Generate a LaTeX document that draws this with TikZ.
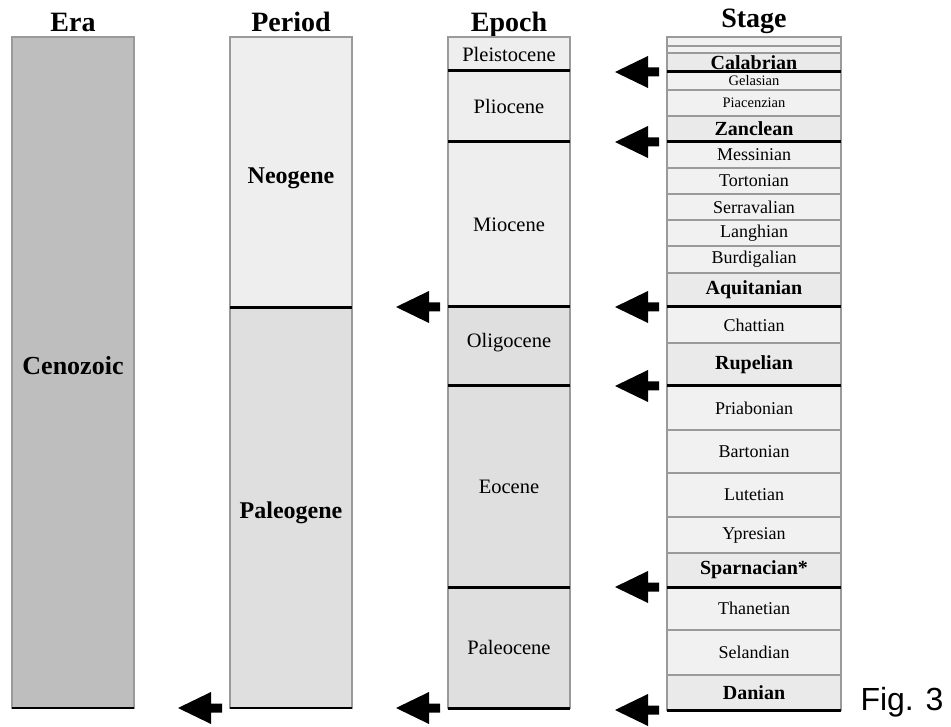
\documentclass[tikz,border=0pt]{standalone}
\usepackage{fontspec}
\setmainfont{Liberation Serif}
\newfontfamily\figfont{Liberation Sans}
\usetikzlibrary{positioning}
\definecolor{eragray}{HTML}{BEBEBE}
\definecolor{lightfill}{HTML}{EEEEEE}
\definecolor{darkfill}{HTML}{DFDFDF}
\definecolor{stagefill}{HTML}{F1F1F1}
\definecolor{stagebold}{HTML}{EAEAEA}
\definecolor{edgegray}{HTML}{9A9A9A}
\begin{document}
\begin{tikzpicture}[x=1pt, y=-1pt,
    cell/.style={draw=edgegray, line width=1.4pt, fill=#1, anchor=north, inner sep=0pt, outer sep=0pt, minimum width=122pt},
    headtext/.style={font=\bfseries\fontsize{28}{30}\selectfont, anchor=base},
    bigbox/.style={cell=#1, font=\bfseries\fontsize{24}{26}\selectfont},
    epochbox/.style={cell=#1, font=\fontsize{20.5}{22}\selectfont},
    stagebox/.style={cell=stagefill, minimum width=174pt, line width=1.2pt, font=\fontsize{18}{19}\selectfont},
    smallstage/.style={stagebox, font=\fontsize{14.5}{15}\selectfont},
    keystage/.style={stagebox, fill=stagebold, font=\bfseries\fontsize{20}{21}\selectfont},
    boundary/.style={line width=3pt, black},
    larrow/.pic={\fill (0,-4.5) -- (-11,-4.5) -- (-11,-16) -- (-44,0) -- (-11,16) -- (-11,4.5) -- (0,4.5) -- cycle;}
]
    \useasboundingbox (0,0) rectangle (951,727);

    % Column headers
    \node[headtext] (hera) at (73,32) {Era};
    \node[headtext] (hperiod) at (291,32) {Period};
    \node[headtext] (hepoch) at (509,32) {Epoch};
    \node[headtext] (hstage) at (754,28) {Stage};

    % Era
    \node[bigbox=eragray, minimum height=671pt, font=\bfseries\fontsize{26}{28}\selectfont, text depth=14pt] (cen) at (73,37) {Cenozoic};

    % Periods
    \node[bigbox=lightfill, minimum height=271pt, text height=27pt] (neo) at (291,37) {Neogene};
    \node[bigbox=darkfill, minimum height=400pt, text height=27pt, below=0pt of neo] (pal) {Paleogene};

    % Epochs
    \node[epochbox=lightfill, minimum height=34pt] (plei) at (509,37) {Pleistocene};
    \node[epochbox=lightfill, minimum height=71pt, below=0pt of plei] (plio) {Pliocene};
    \node[epochbox=lightfill, minimum height=165pt, below=0pt of plio] (mio) {Miocene};
    \node[epochbox=darkfill, minimum height=79pt, text depth=12pt, below=0pt of mio] (oli) {Oligocene};
    \node[epochbox=darkfill, minimum height=201pt, below=0pt of oli] (eoc) {Eocene};
    \node[epochbox=darkfill, minimum height=121pt, below=0pt of eoc] (paleo) {Paleocene};

    % Stages
    \node[stagebox, minimum height=9pt] (top1) at (754,37) {};
    \node[stagebox, minimum height=7pt, below=0pt of top1] (top2) {};
    \node[keystage, minimum height=19pt, below=0pt of top2] (cal) {Calabrian};
    \node[smallstage, minimum height=18pt, below=0pt of cal] (gel) {Gelasian};
    \node[smallstage, minimum height=26pt, below=0pt of gel] (pia) {Piacenzian};
    \node[keystage, minimum height=26pt, below=0pt of pia] (zan) {Zanclean};
    \node[stagebox, minimum height=26pt, below=0pt of zan] (mes) {Messinian};
    \node[stagebox, minimum height=26pt, below=0pt of mes] (tor) {Tortonian};
    \node[stagebox, minimum height=26pt, below=0pt of tor] (ser) {Serravalian};
    \node[stagebox, minimum height=26pt, below=0pt of ser] (lan) {Langhian};
    \node[stagebox, minimum height=27pt, below=0pt of lan] (bur) {Burdigalian};
    \node[keystage, minimum height=34pt, below=0pt of bur] (aqu) {Aquitanian};
    \node[stagebox, minimum height=36pt, below=0pt of aqu] (cha) {Chattian};
    \node[keystage, minimum height=43pt, below=0pt of cha] (rup) {Rupelian};
    \node[stagebox, minimum height=44pt, below=0pt of rup] (pri) {Priabonian};
    \node[stagebox, minimum height=43pt, below=0pt of pri] (bar) {Bartonian};
    \node[stagebox, minimum height=44pt, below=0pt of bar] (lut) {Lutetian};
    \node[stagebox, minimum height=36pt, below=0pt of lut] (ypr) {Ypresian};
    \node[keystage, minimum height=34pt, below=0pt of ypr] (spa) {Sparnacian*};
    \node[stagebox, minimum height=43pt, below=0pt of spa] (tha) {Thanetian};
    \node[stagebox, minimum height=45pt, below=0pt of tha] (sel) {Selandian};
    \node[keystage, minimum height=35pt, below=0pt of sel] (dan) {Danian};

    % Boundary lines
    \draw[line width=1.6pt] (cen.south west) -- (cen.south east);
    \draw[boundary] (neo.south west) -- (neo.south east);
    \draw[line width=2pt] (pal.south west) -- (pal.south east);
    \draw[boundary] (plei.south west) -- (plei.south east);
    \draw[boundary] (plio.south west) -- (plio.south east);
    \draw[boundary] (mio.south west) -- (mio.south east);
    \draw[boundary] (oli.south west) -- (oli.south east);
    \draw[boundary] (eoc.south west) -- (eoc.south east);
    \draw[boundary] (paleo.south west) -- (paleo.south east);
    \draw[boundary] (cal.south west) -- (cal.south east);
    \draw[boundary] (zan.south west) -- (zan.south east);
    \draw[boundary] (aqu.south west) -- (aqu.south east);
    \draw[boundary] (rup.south west) -- (rup.south east);
    \draw[boundary] (spa.south west) -- (spa.south east);
    \draw[boundary] (dan.south west) -- (dan.south east);

    % Arrows
    \pic at ([xshift=-8pt]pal.south west) {larrow};
    \pic at ([xshift=-8pt]mio.south west) {larrow};
    \pic at ([xshift=-8pt]paleo.south west) {larrow};
    \pic at ([xshift=-8pt]cal.south west) {larrow};
    \pic at ([xshift=-8pt]zan.south west) {larrow};
    \pic at ([xshift=-8pt]aqu.south west) {larrow};
    \pic at ([xshift=-8pt]rup.south west) {larrow};
    \pic at ([xshift=-8pt]spa.south west) {larrow};
    \pic at ([xshift=-8pt]dan.south west) {larrow};

    \node[font=\figfont\fontsize{32}{33}\selectfont, anchor=base west] (fig) at (857,710) {Fig. 3};
\end{tikzpicture}
\end{document}
